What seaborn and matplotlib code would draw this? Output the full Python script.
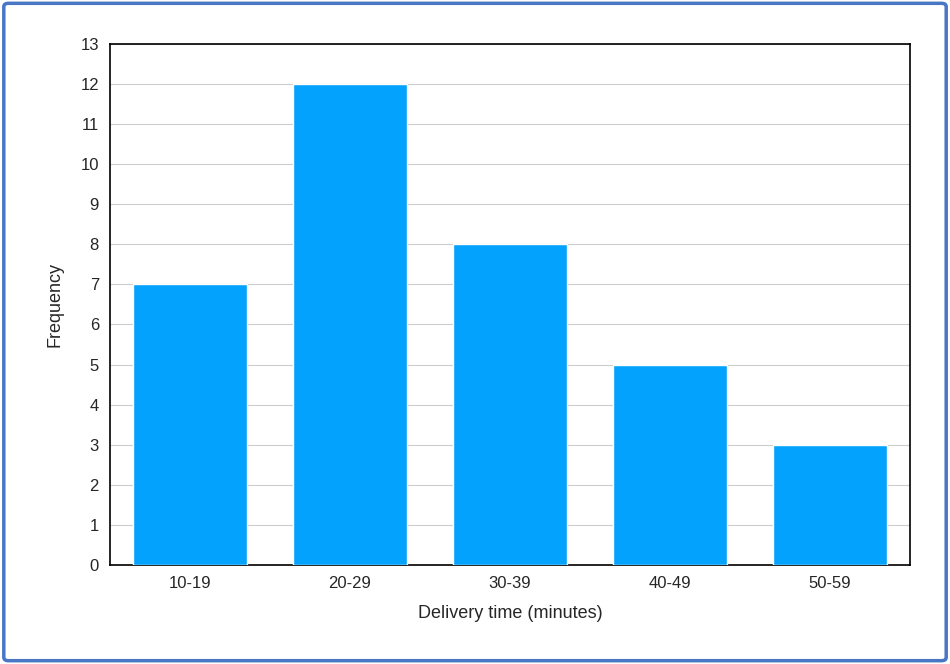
import matplotlib
matplotlib.use("Agg")
import matplotlib.pyplot as plt
import seaborn as sns
import pandas as pd
from matplotlib.patches import FancyBboxPatch

categories = ["10-19", "20-29", "30-39", "40-49", "50-59"]
frequency = [7, 12, 8, 5, 3]

sns.set_style("white")
plt.rcParams['font.family'] = ['Liberation Sans', 'DejaVu Sans']

fig = plt.figure(figsize=(9.5, 6.64), dpi=100)
ax = fig.add_axes([0.1158, 0.149, 0.842, 0.785])
df = pd.DataFrame({"cat": categories, "freq": frequency})
sns.barplot(data=df, x="cat", y="freq", color="#03A2FD", saturation=1, width=0.71, ax=ax, zorder=3)
ax.set_ylim(0, 13)
ax.set_xlim(-0.5, 4.5)
ax.set_yticks(range(0, 14))
ax.yaxis.grid(True, color="#cccccc", linewidth=0.8, zorder=0)
ax.set_axisbelow(True)
for s in ax.spines.values():
    s.set_color("black"); s.set_linewidth(1.2)
ax.tick_params(axis="both", labelsize=12, length=0, pad=8)
ax.set_xlabel("Delivery time (minutes)", fontsize=13, labelpad=10)
ax.set_ylabel("Frequency", fontsize=13, labelpad=12)

border = FancyBboxPatch((0.004, 0.005), 0.992, 0.99, boxstyle="round,pad=0,rounding_size=0.005",
                        transform=fig.transFigure, fill=False, edgecolor="#4A76C6", linewidth=2.5)
fig.patches.append(border)
fig.savefig("out.png", dpi=100)
